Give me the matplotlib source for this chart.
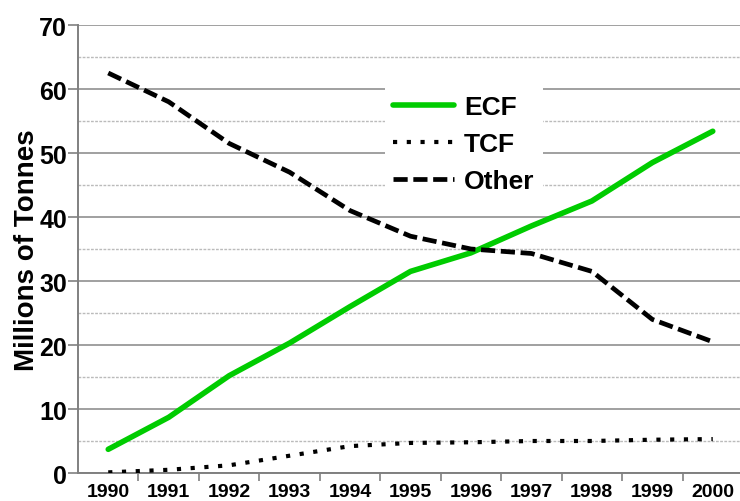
import matplotlib.pyplot as plt
from matplotlib.ticker import MultipleLocator

years = [1990, 1991, 1992, 1993, 1994, 1995, 1996, 1997, 1998, 1999, 2000]
ecf = [3.7, 8.7, 15.2, 20.3, 26.0, 31.5, 34.4, 38.6, 42.5, 48.5, 53.4]
tcf = [0.1, 0.5, 1.2, 2.7, 4.2, 4.7, 4.8, 5.0, 5.0, 5.2, 5.3]
other = [62.5, 58.0, 51.5, 47.0, 41.0, 37.0, 35.0, 34.3, 31.5, 24.0, 20.5]

plt.rcParams["font.family"] = ["Liberation Sans", "DejaVu Sans"]
plt.rcParams["font.weight"] = "bold"

fig = plt.figure(figsize=(7.4, 5.02), dpi=100)
ax = fig.add_axes([78 / 740, 1 - 474 / 502, 665 / 740, 448 / 502])

ax.plot(years, ecf, color="#00cc00", lw=4.0, label="ECF", solid_capstyle="round", zorder=3)
ax.plot(years, tcf, color="black", lw=3.0, ls=(0, (1.0, 2.3)), label="TCF", zorder=3)
ax.plot(years, other, color="black", lw=3.4, ls=(0, (3.0, 1.2)), label="Other", zorder=3)

ax.set_xlim(1989.5, 2000.5)
ax.set_ylim(0, 70)
ax.set_xticks(years)
ax.set_xticklabels([str(y) for y in years], fontsize=14, fontweight="bold")
ax.set_xticks([y + 0.5 for y in years[:-1]], minor=True)
ax.tick_params(axis="x", which="major", length=0, pad=7)
ax.tick_params(axis="x", which="minor", length=6, color="#808080", width=1.2)
ax.yaxis.set_major_locator(MultipleLocator(10))
ax.yaxis.set_minor_locator(MultipleLocator(5))
ax.tick_params(axis="y", which="major", labelsize=18, length=7, color="#808080", width=1.2, pad=1)
ax.tick_params(axis="y", which="minor", length=0)
for lab in ax.get_yticklabels():
    lab.set_fontweight("bold")

ax.grid(axis="y", which="major", color="#999999", lw=1.3)
ax.grid(axis="y", which="minor", color="#bbbbbb", lw=1.0, ls=(0, (2, 1)))
ax.set_axisbelow(True)

for s in ["top", "right"]:
    ax.spines[s].set_visible(False)
for s in ["left", "bottom"]:
    ax.spines[s].set_color("#808080")
    ax.spines[s].set_linewidth(1.4)

ax.set_ylabel("Millions of Tonnes", fontsize=20, fontweight="bold", labelpad=-1)

leg = ax.legend(loc="upper left", bbox_to_anchor=(385 / 740, 1 - 88 / 502),
                bbox_transform=fig.transFigure, frameon=True, fontsize=19,
                handlelength=2.3, handletextpad=0.4, labelspacing=0.5,
                borderpad=0.3, borderaxespad=0, fancybox=False)
leg.get_frame().set_edgecolor("none")
leg.get_frame().set_facecolor("white")
leg.get_frame().set_alpha(1)
for t in leg.get_texts():
    t.set_fontweight("bold")

fig.savefig("out.png", dpi=100)
